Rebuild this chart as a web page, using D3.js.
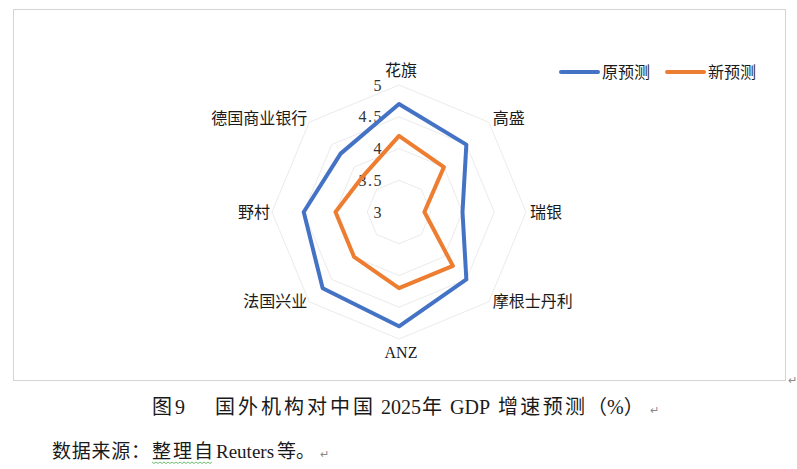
<!DOCTYPE html>
<html lang="zh">
  <head>
    <meta charset="UTF-8" />
    <title>国外机构对中国2025年GDP增速预测</title>
    <style>
      body { margin: 0; background: #fff; }
      text { font-family: "Liberation Serif", "Noto Sans CJK SC", serif; fill: #1a1a1a; }
    </style>
  </head>
  <body>
    <script src="https://d3js.org/d3.v7.min.js"></script>
    <script>
      // 机构与两组预测值
      const categories = ["花旗", "高盛", "瑞银", "摩根士丹利", "ANZ", "法国兴业", "野村", "德国商业银行"]
      const oldForecast = [4.7, 4.5, 4.0, 4.5, 4.8, 4.7, 4.5, 4.3]
      const newForecast = [4.2, 4.0, 3.4, 4.2, 4.2, 4.0, 4.0, 3.8]
      const seriesNames = ["原预测", "新预测"]
      const ticks = [3, 3.5, 4, 4.5, 5]

      const width = 797
      const height = 469
      const cx = 399
      const cy = 212
      const colors = ["#4472c4", "#ed7d31"]

      const svg = d3.select("body").append("svg")
        .attr("width", width)
        .attr("height", height)

      // 图表外框
      svg.append("rect")
        .attr("x", 13.5).attr("y", 9.5)
        .attr("width", 772).attr("height", 371)
        .attr("fill", "none")
        .attr("stroke", "#d4d4d4")

      const r = d3.scaleLinear().domain([3, 5]).range([0, 127])
      const angle = d3.scaleLinear().domain([0, categories.length]).range([0, 2 * Math.PI])

      function point(i, v) {
        const a = angle(i)
        return [cx + r(v) * Math.sin(a), cy - r(v) * Math.cos(a)]
      }

      // 网格八边形
      svg.selectAll("path.grid")
        .data(ticks.slice(1))
        .enter()
        .append("path")
        .attr("class", "grid")
        .attr("d", t => d3.line()(categories.map((c, i) => point(i, t))) + "Z")
        .attr("fill", "none")
        .attr("stroke", "#ebebeb")
        .attr("stroke-width", 1)

      // 刻度标签
      svg.selectAll("text.tick")
        .data(ticks)
        .enter()
        .append("text")
        .attr("class", "tick")
        .attr("x", 383)
        .attr("y", d => cy - r(d))
        .attr("dy", "0.35em")
        .attr("text-anchor", "end")
        .style("font-size", "16px")
        .style("letter-spacing", "1.5px")
        .style("fill", "#333")
        .text(d => d)

      // 两条预测线
      const series = [oldForecast, newForecast]
      svg.selectAll("path.series")
        .data(series)
        .enter()
        .append("path")
        .attr("class", "series")
        .attr("d", vals => d3.line()(vals.map((v, i) => point(i, v))) + "Z")
        .attr("fill", "none")
        .attr("stroke", (d, i) => colors[i])
        .attr("stroke-width", 4)
        .attr("stroke-linejoin", "round")

      // 机构名称
      svg.selectAll("text.cat")
        .data(categories)
        .enter()
        .append("text")
        .attr("class", "cat")
        .each(function (d, i) {
          const a = angle(i)
          const s = Math.sin(a)
          const c = Math.cos(a)
          const [vx, vy] = point(i, 5)
          let x = vx, y = vy, anchor = "middle"
          if (Math.abs(s) < 0.1) {
            x = vx + 2
            y = vy + (c > 0 ? -15 : 13)
          } else {
            anchor = s > 0 ? "start" : "end"
            x = vx + (s > 0 ? 4 : -2)
            y = vy + (c > 0.1 ? -4 : 0)
          }
          d3.select(this)
            .attr("x", x)
            .attr("y", y)
            .attr("dy", "0.35em")
            .attr("text-anchor", anchor)
        })
        .style("font-size", "16px")
        .text(d => d)

      // 图例
      const legend = svg.selectAll("g.legend")
        .data(seriesNames)
        .enter()
        .append("g")
        .attr("class", "legend")
        .attr("transform", (d, i) => `translate(${561 + i * 106},72)`)
      legend.append("line")
        .attr("x1", 0).attr("x2", 37)
        .attr("stroke", (d, i) => colors[i])
        .attr("stroke-width", 4)
        .attr("stroke-linecap", "round")
      legend.append("text")
        .attr("x", 41)
        .attr("dy", "0.35em")
        .style("font-size", "16px")
        .text(d => d)

      // 图题
      const caption = [
        ["图", 152, 0], ["9", 175, 0], ["国外机构对中国", 215, 158], ["2025", 381, 0],
        ["年", 422, 0], ["GDP", 450, 0], ["增速预测", 498, 87], ["（%）", 587, 0]
      ]
      svg.selectAll("text.cap")
        .data(caption)
        .enter()
        .append("text")
        .attr("class", "cap")
        .attr("x", d => d[1])
        .attr("y", 414)
        .attr("textLength", d => d[2] || null)
        .style("font-size", "20px")
        .text(d => d[0])

      // 数据来源
      const source = [["数据来源：", 52, 98], ["整理自", 152, 61], ["Reuters", 216, 0], ["等。", 277, 0]]
      svg.selectAll("text.src")
        .data(source)
        .enter()
        .append("text")
        .attr("class", "src")
        .attr("x", d => d[1])
        .attr("y", 458)
        .attr("textLength", d => d[2] || null)
        .style("font-size", "19px")
        .text(d => d[0])

      // 拼写检查波浪线
      const wave = d3.range(0, 31).map(k => [152 + k * 2, 462 + (k % 2 ? 1.5 : 0)])
      svg.append("path")
        .attr("d", d3.line()(wave))
        .attr("fill", "none")
        .attr("stroke", "#4caf50")
        .attr("stroke-width", 0.8)

      // 段落标记
      const marks = [[650, 414], [320, 458], [788, 384]]
      svg.selectAll("text.mark")
        .data(marks)
        .enter()
        .append("text")
        .attr("x", d => d[0])
        .attr("y", d => d[1])
        .style("font-size", "11px")
        .style("fill", "#888")
        .text("↵")
    </script>
  </body>
</html>
